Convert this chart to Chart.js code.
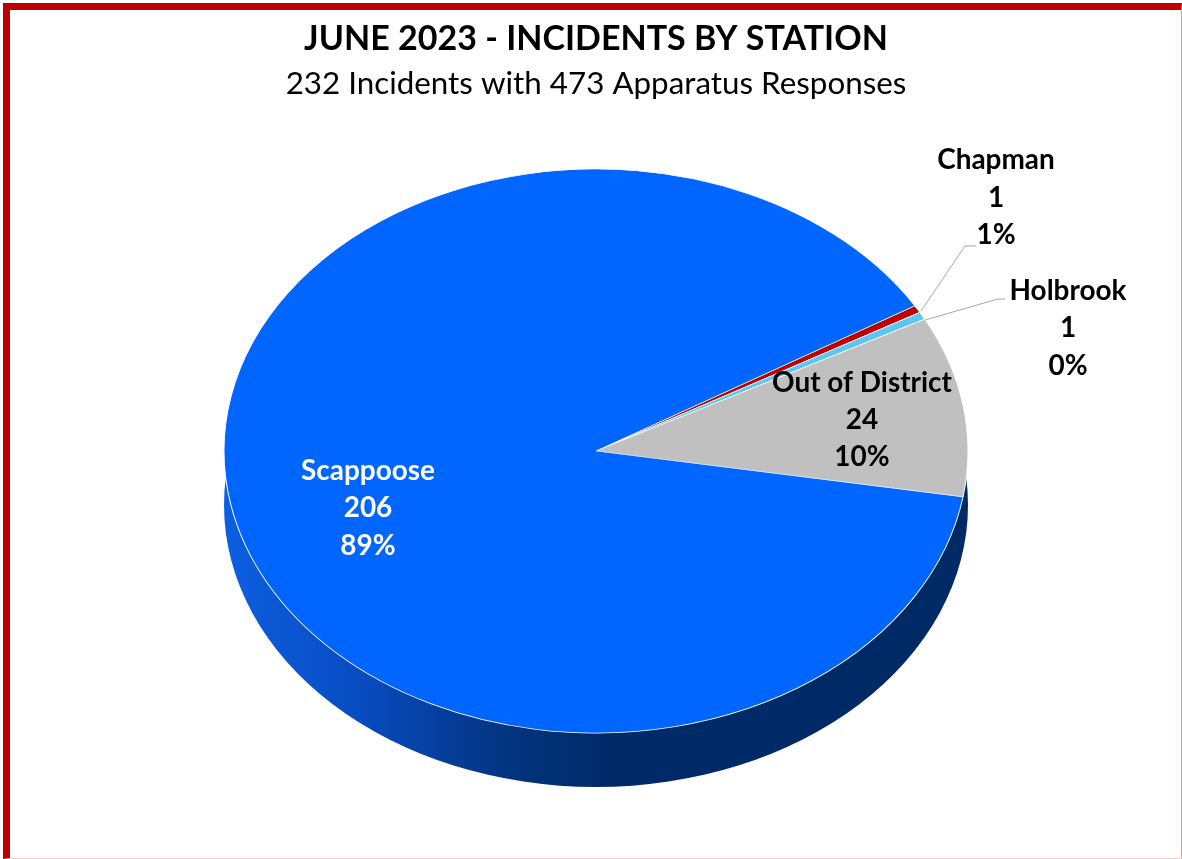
<!DOCTYPE html>
<html>
<head>
<meta charset="utf-8">
<script src="https://cdn.jsdelivr.net/npm/chart.js@4.4.1/dist/chart.umd.min.js"></script>
<style>
  html, body { margin: 0; padding: 0; background: #ffffff; }
  #wrap { position: relative; width: 1182px; height: 859px; overflow: hidden; background: #fff; }
  #frame { position: absolute; left: 3px; top: 3px; width: 1179px; height: 856px; box-sizing: border-box;
    border-left: 7px solid #c00000; border-top: 7px solid #c00000;
    border-right: 1px solid #e39a9a; border-bottom: 1px solid #f6cccc; pointer-events: none; }
  canvas { position: absolute; left: 0; top: 0; }
</style>
</head>
<body>
<div id="wrap">
  <canvas id="c" width="1182" height="859"></canvas>
  <div id="frame"></div>
</div>
<script>
// ---- data ----
const titleText = 'JUNE 2023 - INCIDENTS BY STATION';
const subtitleText = '232 Incidents with 473 Apparatus Responses';
const categories = ['Chapman', 'Holbrook', 'Out of District', 'Scappoose'];
const incidents = [1, 1, 24, 206];
const percentLabels = ['1%', '0%', '10%', '89%'];
const sliceColors = ['#c00000', '#5cc6f2', '#c0c0c0', '#0066ff'];

// ---- geometry of the tilted pie (screen px) ----
const CX = 596, CY = 451, RX = 372, RY = 282, DEPTH = 54;

function fitSize(text, weight, family, target) {
  const c = document.createElement('canvas').getContext('2d');
  c.font = weight + ' 100px ' + family;
  return 100 * target / c.measureText(text).width;
}
const FAMILY = 'Lato, "Open Sans", sans-serif';
const titleSize = fitSize(titleText, 'bold', FAMILY, 584);
const subSize = fitSize(subtitleText, 'normal', FAMILY, 621);
const labelSize = fitSize('Out of District', 'bold', FAMILY, 180);

// label placement (screen px): center x and baselines of the three lines
const labelPlaces = [
  { x: 996, y: [169, 207, 244], color: '#000000' },
  { x: 1068, y: [300, 337, 375], color: '#000000' },
  { x: 862, y: [392, 429, 466], color: '#000000' },
  { x: 368, y: [480, 517, 555], color: '#ffffff' }
];
const leaderLines = [
  [[921, 311], [965, 246], [976, 246]],
  [[925, 320], [998, 299], [1005, 299]],
  null, null
];

const tiltPlugin = {
  id: 'tilt',
  beforeDatasetsDraw(chart) {
    const ctx = chart.ctx;
    const arc = chart.getDatasetMeta(0).data[0];
    const x = arc.x, y = arc.y, r = arc.outerRadius;
    ctx.save();
    ctx.translate(CX, CY);
    ctx.scale(RX / r, RY / r);
    ctx.translate(-x, -y);
    // side wall of the disc
    const dy = DEPTH * r / RY;
    const g = ctx.createLinearGradient(x - r, 0, x + r, 0);
    g.addColorStop(0, '#0c5fe0');
    g.addColorStop(0.18, '#084cc2');
    g.addColorStop(0.38, '#03347f');
    g.addColorStop(0.52, '#002a68');
    g.addColorStop(1, '#002a66');
    ctx.beginPath();
    ctx.ellipse(x, y + dy, r, r, 0, 0, Math.PI * 2);
    ctx.fillStyle = g;
    ctx.fill();
  },
  afterDatasetsDraw(chart) {
    chart.ctx.restore();
  },
  afterDraw(chart) {
    const ctx = chart.ctx;
    ctx.save();
    // leader lines
    ctx.strokeStyle = '#a6a6a6';
    ctx.lineWidth = 1;
    leaderLines.forEach(pts => {
      if (!pts) return;
      ctx.beginPath();
      ctx.moveTo(pts[0][0], pts[0][1]);
      for (let i = 1; i < pts.length; i++) ctx.lineTo(pts[i][0], pts[i][1]);
      ctx.stroke();
    });
    // data labels
    ctx.font = 'bold ' + labelSize + 'px ' + FAMILY;
    ctx.textAlign = 'center';
    ctx.textBaseline = 'alphabetic';
    categories.forEach((name, i) => {
      const p = labelPlaces[i];
      ctx.fillStyle = p.color;
      const lines = [name, String(incidents[i]), percentLabels[i]];
      lines.forEach((t, j) => ctx.fillText(t, p.x, p.y[j]));
    });
    ctx.restore();
  }
};

const titleMid = 52 - 0.387 * titleSize;
const subMid = 96 - 0.387 * subSize;
const titlePadTop = titleMid - 0.6 * titleSize;
const titleBottom = titlePadTop + 1.2 * titleSize;
const subPadTop = 0;
const titlePadBottom = (subMid - 0.6 * subSize) - titleBottom;

new Chart(document.getElementById('c'), {
  type: 'pie',
  data: {
    labels: categories,
    datasets: [{
      data: incidents,
      backgroundColor: sliceColors,
      borderColor: '#ffffff',
      borderWidth: 1,
      clip: false
    }]
  },
  options: {
    responsive: false,
    animation: false,
    devicePixelRatio: 1,
    rotation: 59,
    events: [],
    layout: { padding: { left: 224, right: 214, top: 0, bottom: 0 } },
    plugins: {
      legend: { display: false },
      tooltip: { enabled: false },
      title: {
        display: true, text: titleText, color: '#000000',
        font: { family: FAMILY, weight: 'bold', size: titleSize, lineHeight: 1.2 },
        padding: { top: titlePadTop, bottom: titlePadBottom }
      },
      subtitle: {
        display: true, text: subtitleText, color: '#000000',
        font: { family: FAMILY, weight: 'normal', size: subSize, lineHeight: 1.2 },
        padding: { top: subPadTop, bottom: 4 }
      }
    }
  },
  plugins: [tiltPlugin]
});
</script>
</body>
</html>
